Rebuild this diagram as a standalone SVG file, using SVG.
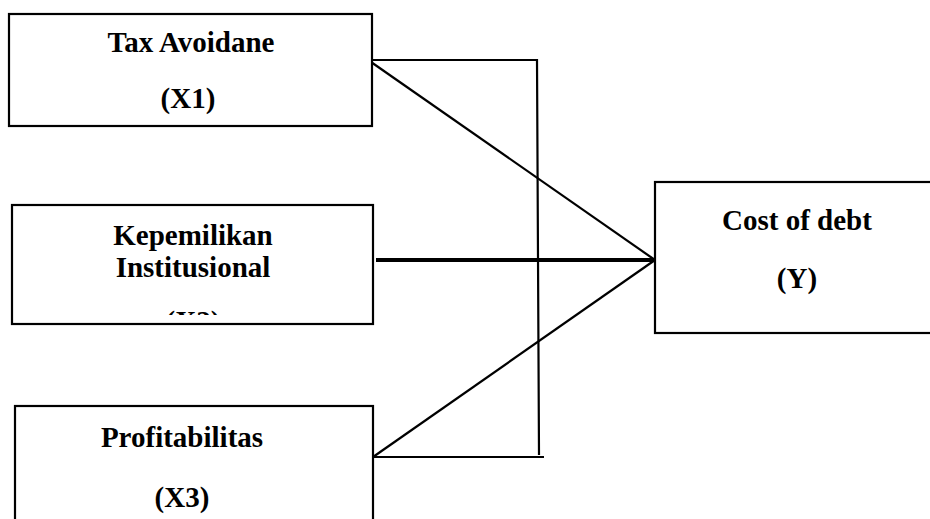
<svg xmlns="http://www.w3.org/2000/svg" width="930" height="519" viewBox="0 0 930 519">
<style>
.box{fill:#fff;stroke:#000;stroke-width:2.2}
.ln{stroke:#000;stroke-width:2.2;fill:none}
</style>
<defs>
<clipPath id="clip2"><rect x="12" y="205" width="361" height="110"/></clipPath>
</defs>
<rect width="930" height="519" fill="#fff"/>
<g id="connectors">
<polyline class="ln" points="373,60 537,60 539,455"/>
<polyline class="ln" points="373,457 544,457"/>
<line class="ln" x1="371" y1="62" x2="655" y2="260"/>
<line class="ln" x1="373" y1="457" x2="655" y2="260"/>
<line x1="376" y1="260" x2="655" y2="260" stroke="#000" stroke-width="4"/>
</g>
<g font-family="'Liberation Serif', 'Times New Roman', Times, serif" font-weight="bold" font-size="29" fill="#000" text-anchor="middle">
<g id="node-x1">
<rect class="box" x="9" y="14" width="363" height="112"/>
<text x="191" y="52">Tax Avoidane</text>
<text x="188" y="108">(X1)</text>
</g>
<g id="node-x2">
<rect class="box" x="12" y="205" width="361" height="119"/>
<text x="193" y="245">Kepemilikan</text>
<text x="193" y="277">Institusional</text>
<text x="193" y="331" clip-path="url(#clip2)">(X2)</text>
</g>
<g id="node-x3">
<rect class="box" x="15" y="406" width="358" height="130"/>
<text x="182" y="447">Profitabilitas</text>
<text x="182" y="507">(X3)</text>
</g>
<g id="node-y">
<rect class="box" x="655" y="182" width="290" height="151"/>
<text x="797" y="230">Cost of debt</text>
<text x="797" y="288">(Y)</text>
</g>
</g>
</svg>
